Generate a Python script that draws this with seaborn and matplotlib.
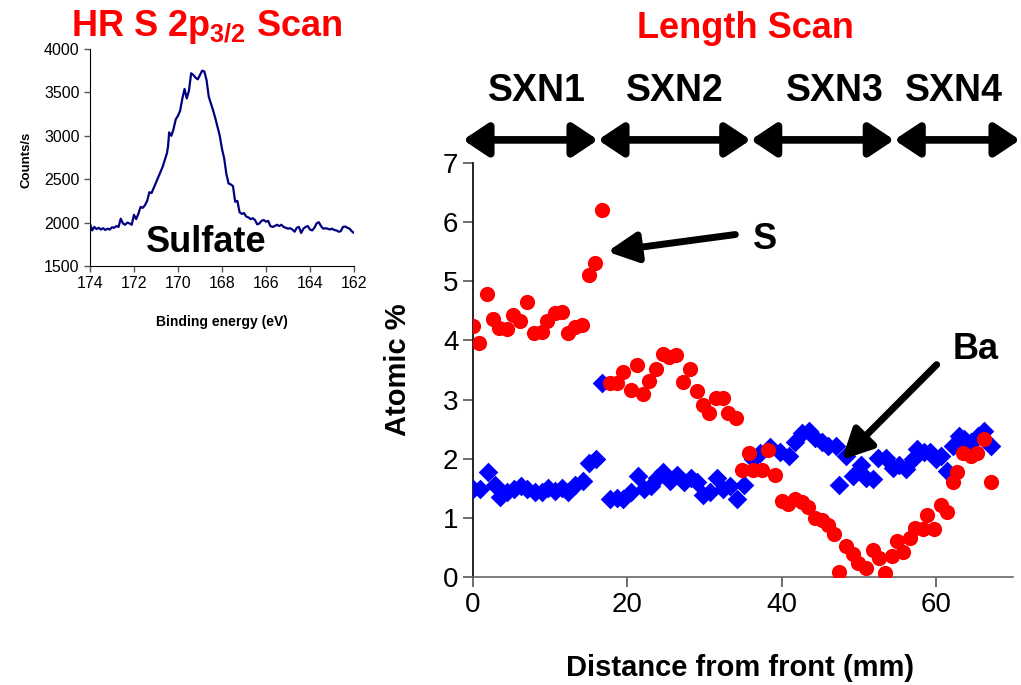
import numpy as np
import pandas as pd
import matplotlib
matplotlib.use("Agg")
import matplotlib.pyplot as plt
import seaborn as sns
from matplotlib.patches import FancyArrowPatch

# =====================================================
# DATA - length scan (atomic %)
# =====================================================
s_dist = [0.0, 0.8, 1.8, 2.6, 3.4, 4.4, 5.2, 6.1, 7.0, 7.9, 8.9, 9.6, 10.6, 11.5,
          12.3, 13.2, 14.1, 15.0, 15.8, 16.7,
          17.7, 18.6, 19.4, 20.5, 21.2, 22.0, 22.8, 23.7, 24.6, 25.4, 26.3, 27.2,
          28.1, 29.0, 29.8, 30.6, 31.5, 32.4, 33.0, 34.1,
          34.9, 35.8, 36.3, 37.4, 38.3, 39.1, 40.0, 40.8, 41.7, 42.6, 43.4, 44.3,
          45.2, 46.0, 46.8, 47.5, 48.4, 49.2, 49.9, 50.9, 51.8, 52.6, 53.4, 54.3,
          54.9, 55.8, 56.6, 57.3, 58.3, 58.9, 59.7, 60.6, 61.4, 62.2, 62.8, 63.5,
          64.5, 65.3, 66.2, 67.1]
s_atomic = [4.24, 3.95, 4.78, 4.36, 4.21, 4.19, 4.43, 4.33, 4.65, 4.13, 4.14, 4.33,
            4.47, 4.48, 4.13, 4.23, 4.26, 5.11, 5.31, 6.20,
            3.28, 3.28, 3.47, 3.16, 3.58, 3.10, 3.31, 3.51, 3.77, 3.72, 3.75, 3.29,
            3.51, 3.14, 2.90, 2.78, 3.02, 3.02, 2.78, 2.68,
            1.81, 2.09, 1.81, 1.81, 2.14, 1.73, 1.29, 1.24, 1.32, 1.26, 1.19, 1.00,
            0.97, 0.88, 0.73, 0.09, 0.53, 0.39, 0.23, 0.15, 0.46, 0.32, 0.07, 0.36,
            0.61, 0.42, 0.66, 0.83, 0.81, 1.05, 0.81, 1.22, 1.10, 1.60, 1.77, 2.09,
            2.05, 2.09, 2.34, 1.60]

ba_dist = [0.0, 0.9, 1.9, 2.8, 3.5, 4.4, 5.3, 6.2, 7.0, 8.0, 8.9, 9.7, 10.6, 11.5,
           12.3, 13.2, 14.2, 15.0, 16.0,
           16.7, 17.7, 18.6, 19.4, 20.5, 21.4, 22.2, 23.1, 23.8, 24.6, 25.5, 26.4,
           27.3, 28.2, 29.0, 29.8, 30.7, 31.6, 32.4, 33.3, 34.2, 35.1,
           36.3, 37.2, 38.5, 39.8, 40.9, 41.7, 42.6, 43.5, 44.3, 45.2, 46.0, 47.0,
           47.5, 48.4, 49.2, 50.3, 51.0, 51.9, 52.5, 53.5, 54.4, 55.2, 56.1, 57.0,
           57.5, 58.4, 59.2, 60.0, 60.7, 61.5, 62.2, 63.0, 63.7, 64.6, 65.4, 66.3,
           67.2]
ba_atomic = [1.48, 1.48, 1.78, 1.56, 1.36, 1.44, 1.49, 1.53, 1.49, 1.43, 1.44, 1.51,
             1.46, 1.51, 1.43, 1.55, 1.63, 1.92, 2.00,
             3.28, 1.31, 1.34, 1.32, 1.43, 1.70, 1.48, 1.53, 1.68, 1.77, 1.63, 1.72,
             1.60, 1.68, 1.60, 1.39, 1.44, 1.68, 1.48, 1.53, 1.31, 1.55,
             2.00, 2.10, 2.20, 2.12, 2.04, 2.29, 2.43, 2.46, 2.35, 2.29, 2.21, 2.21,
             1.56, 2.04, 1.71, 1.90, 1.68, 1.65, 2.02, 2.02, 1.85, 1.90, 1.82, 1.99,
             2.17, 2.12, 2.12, 1.99, 2.04, 1.80, 2.21, 2.39, 2.33, 2.29, 2.38, 2.46,
             2.21]

sections = ["SXN1", "SXN2", "SXN3", "SXN4"]
section_edges = [-1.3, 16.2, 36.0, 54.6, 70.9]
section_label_x = [8.3, 26.1, 46.9, 62.4]

# =====================================================
# DATA - HR S 2p3/2 spectrum
# =====================================================
be = [174.0, 173.9, 173.8, 173.7, 173.6, 173.5, 173.4, 173.3, 173.2, 173.1,
      173.0, 172.9, 172.8, 172.7, 172.6, 172.5, 172.4, 172.3, 172.2, 172.1,
      172.0, 171.9, 171.8, 171.7, 171.6, 171.5, 171.4, 171.3, 171.2, 171.1,
      171.0, 170.9, 170.8, 170.7, 170.6, 170.5, 170.45, 170.4, 170.3, 170.2,
      170.1, 170.0, 169.9, 169.8, 169.7, 169.6, 169.5, 169.4, 169.3, 169.2,
      169.1, 169.0, 168.9, 168.8, 168.7, 168.6, 168.5, 168.4, 168.3, 168.2,
      168.1, 168.0, 167.9, 167.8, 167.7, 167.6, 167.5, 167.4, 167.3, 167.2,
      167.1, 167.0, 166.9, 166.8, 166.7, 166.6, 166.5, 166.4, 166.3, 166.2,
      166.1, 166.0, 165.9, 165.8, 165.7, 165.6, 165.5, 165.4, 165.3, 165.2,
      165.1, 165.0, 164.9, 164.8, 164.7, 164.6, 164.5, 164.4, 164.3, 164.2,
      164.1, 164.0, 163.9, 163.8, 163.7, 163.6, 163.5, 163.4, 163.3, 163.2,
      163.1, 163.0, 162.9, 162.8, 162.7, 162.6, 162.5, 162.4, 162.3, 162.2,
      162.1, 162.0]
counts = [1990, 1910, 1950, 1925, 1940, 1920, 1935, 1915, 1930, 1920,
          1945, 1940, 1960, 1950, 2045, 1990, 1975, 2000, 1990, 1975,
          2090, 2040, 2100, 2180, 2170, 2200, 2250, 2350, 2340, 2400,
          2460, 2520, 2580, 2640, 2720, 2800, 2880, 3040, 3000, 3080,
          3190, 3230, 3290, 3430, 3540, 3430, 3520, 3720, 3700, 3670,
          3650, 3700, 3750, 3740, 3640, 3450, 3370, 3290, 3200, 3100,
          3000, 2850, 2740, 2560, 2450, 2440, 2420, 2240, 2250, 2120,
          2100, 2110, 2070, 2060, 2040, 2050, 2030, 1980, 1990, 2020,
          2030, 2010, 2020, 1960, 1950, 1960, 1975, 1960, 1975, 1950,
          1940, 1930, 1935, 1920, 1895, 1940, 1950, 1880, 1930, 1950,
          1960, 1920, 1910, 1940, 1990, 2005, 1960, 1930, 1935, 1930,
          1920, 1930, 1915, 1910, 1895, 1900, 1950, 1955, 1940, 1930,
          1900, 1880]

s_df = pd.DataFrame({"dist": s_dist, "atomic": s_atomic})
ba_df = pd.DataFrame({"dist": ba_dist, "atomic": ba_atomic})
xps_df = pd.DataFrame({"be": be, "counts": counts})

# =====================================================
# STYLE
# =====================================================
sns.set_style("ticks")
plt.rcParams["font.family"] = ["Liberation Sans", "DejaVu Sans"]
plt.rcParams["mathtext.fontset"] = "custom"
plt.rcParams["mathtext.rm"] = "Liberation Sans"
plt.rcParams["mathtext.bf"] = "Liberation Sans:bold"
plt.rcParams["text.color"] = "black"
plt.rcParams["axes.labelcolor"] = "black"

fig = plt.figure(figsize=(10.21, 6.85), dpi=100)

# =====================================================
# MAIN LENGTH SCAN
# =====================================================
ax = fig.add_axes([0.4633, 0.1577, 0.5289, 0.6044])
sns.scatterplot(data=ba_df, x="dist", y="atomic", ax=ax, marker="D",
                color="#0000FF", s=100, linewidth=0, zorder=3)
sns.scatterplot(data=s_df, x="dist", y="atomic", ax=ax, marker="o",
                color="#FF0000", s=120, linewidth=0, zorder=4)
ax.set_xlim(0, 70)
ax.set_ylim(0, 7)
ax.set_xticks([0, 20, 40, 60])
ax.set_yticks(range(0, 8))
ax.tick_params(axis="both", labelsize=20, length=7, width=1.2, colors="#555555",
               labelcolor="black")
for side in ["top", "right"]:
    ax.spines[side].set_visible(False)
ax.spines["left"].set_color("black")
ax.spines["bottom"].set_color("#666666")
ax.spines["left"].set_linewidth(1.2)
ax.spines["bottom"].set_linewidth(1.2)
ax.set_xlabel("Distance from front (mm)", fontsize=21, fontweight="bold",
              color="black")
ax.set_ylabel("Atomic %", fontsize=21, fontweight="bold", color="black")
ax.xaxis.set_label_coords(0.494, -0.185)
ax.yaxis.set_label_coords(-0.113, 0.5)

# section arrows above the plot
for i in range(len(sections)):
    arr = FancyArrowPatch((section_edges[i], 7.39), (section_edges[i + 1], 7.39),
                          arrowstyle="<|-|>,head_length=0.75,head_width=0.5",
                          mutation_scale=20, lw=5.5, color="black",
                          shrinkA=0, shrinkB=0, clip_on=False)
    ax.add_patch(arr)
    ax.text(section_label_x[i], 8.21, sections[i], ha="center", va="center",
            fontsize=27, fontweight="bold", color="black", clip_on=False)

# pointer arrows
ax.annotate("", xy=(17.4, 5.50), xytext=(34.0, 5.79),
            arrowprops=dict(arrowstyle="-|>,head_length=0.9,head_width=0.45",
                            mutation_scale=20, lw=5, color="black",
                            shrinkA=0, shrinkB=0))
ax.text(37.9, 5.70, "S", ha="center", va="center", fontsize=26,
        fontweight="bold", color="black")
ax.annotate("", xy=(47.8, 1.98), xytext=(60.1, 3.59),
            arrowprops=dict(arrowstyle="-|>,head_length=0.9,head_width=0.45",
                            mutation_scale=20, lw=5, color="black",
                            shrinkA=0, shrinkB=0))
ax.text(65.1, 3.84, "Ba", ha="center", va="center", fontsize=26,
        fontweight="bold", color="black")

fig.text(745 / 1021, 1 - 28 / 685, "Length Scan", ha="center", va="center",
         fontsize=26, fontweight="bold", color="#FF0000")

# =====================================================
# INSET - HR S 2p3/2 SCAN
# =====================================================
ins = fig.add_axes([0.0881, 0.6117, 0.2586, 0.3168])
sns.lineplot(data=xps_df, x="be", y="counts", ax=ins, color="#000080",
             linewidth=1.6, sort=False)
ins.set_xlim(174, 162)
ins.set_ylim(1500, 4000)
ins.set_xticks([174, 172, 170, 168, 166, 164, 162])
ins.set_yticks([1500, 2000, 2500, 3000, 3500, 4000])
ins.tick_params(axis="both", labelsize=11.5, length=4, width=1, colors="#555555",
                labelcolor="black")
for side in ["top", "right"]:
    ins.spines[side].set_visible(False)
ins.spines["left"].set_color("black")
ins.spines["bottom"].set_color("black")
ins.set_xlabel("Binding energy (eV)", fontsize=10, fontweight="bold",
               color="black")
ins.set_ylabel("Counts/s", fontsize=9.5, fontweight="bold", color="black")
ins.xaxis.set_label_coords(0.5, -0.226)
ins.yaxis.set_label_coords(-0.216, 0.49)
ins.text(168.7, 1770, "Sulfate", ha="center", va="center", fontsize=26,
         fontweight="bold", color="black")

fig.text(207 / 1021, 1 - 27 / 685, r"HR S 2p$_{\mathbf{3/2}}$ Scan",
         ha="center", va="center", fontsize=26, fontweight="bold",
         color="#FF0000")

plt.savefig("out.png", dpi=100)
